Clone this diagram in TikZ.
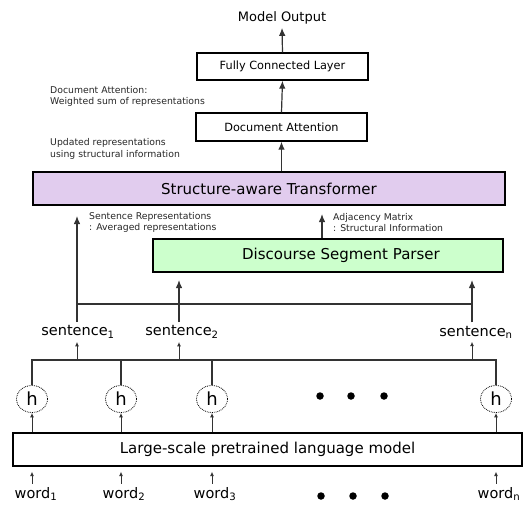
\documentclass[tikz,border=0pt]{standalone}
\usepackage{fontspec}
\setmainfont{DejaVu Sans}
\usetikzlibrary{shapes.geometric,arrows.meta}
\definecolor{purplefill}{HTML}{E1CCEE}
\definecolor{greenfill}{HTML}{CCFFCC}
\definecolor{linegray}{HTML}{333333}
\begin{document}
\begin{tikzpicture}[x=1pt,y=-1pt,
  box/.style={draw=black,line width=1.3pt,inner sep=0pt},
  bigtext/.style={font=\fontsize{14.5}{16}\selectfont},
  midtext/.style={font=\fontsize{11.3}{13}\selectfont},
  largetext/.style={font=\fontsize{15}{17}\selectfont},
  note/.style={font=\fontsize{9.3}{11.5}\selectfont,align=left,anchor=west,inner sep=0pt,text=black!85},
  bigarrow/.style={draw=linegray,line width=1.2pt,-{Latex[length=8pt,width=6.5pt]}},
  smallarrow/.style={draw=linegray,line width=0.9pt,-{Latex[length=4.5pt,width=4pt]}},
  plain/.style={draw=linegray,line width=1.2pt},
  hnode/.style={ellipse,draw=black,densely dotted,line width=0.8pt,minimum width=31pt,minimum height=27pt,inner sep=0pt,font=\fontsize{18}{20}\selectfont},
  dotmark/.style={circle,fill=black,minimum size=7.5pt,inner sep=0pt}
]
\useasboundingbox (0,0) rectangle (530,504);

% top part
\node[font=\fontsize{13}{15}\selectfont] (out) at (282,18) {Model Output};
\node[box,midtext,minimum width=171pt,minimum height=27pt] (fc) at (282.5,66.5) {Fully Connected Layer};
\node[box,midtext,minimum width=171pt,minimum height=28pt] (da) at (281.5,127) {Document Attention};
\node[box,fill=purplefill,minimum width=472pt,minimum height=33pt,largetext] (sta) at (269,188.5) {Structure-aware Transformer};
\node[box,fill=greenfill,minimum width=350pt,minimum height=33pt] (dsp) at (328,255.5) {};
\node[largetext] (dsptext) at (341,255.5) {Discourse Segment Parser};

\node[note] (n1) at (50,96.5) {Document Attention:\\Weighted sum of representations};
\node[note] (n2) at (50,149) {Updated representations\\using structural information};
\node[note] (n3) at (89,222.5) {Sentence Representations\\: Averaged representations};
\node[note] (n4) at (333,222.5) {Adjacency Matrix\\: Structural Information};

\draw[bigarrow] (fc.north) -- (out.south);
\draw[bigarrow] (da.north) -- (fc.south);
\draw[bigarrow] (da.south |- sta.north) -- (da.south);

% sentences
\node[bigtext] (s1) at (78,332) {sentence\textsubscript{1}};
\node[bigtext] (s2) at (182,332) {sentence\textsubscript{2}};
\node[bigtext] (sn) at (476,332) {sentence\textsubscript{n}};

\coordinate (s1tip) at (77,216);
\coordinate (adjtip) at (322,214);
\coordinate (s2tip) at (179,280);
\coordinate (sntip) at (472,280);
\coordinate (hL) at (77,304);
\coordinate (hR) at (472,304);

\draw[bigarrow] (s1tip |- s1.north) -- (s1tip);
\draw[bigarrow] (adjtip |- dsp.north) -- (adjtip);
\draw[bigarrow] (s2tip |- s2.north) -- (s2tip);
\draw[bigarrow] (sntip |- sn.north) -- (sntip);
\draw[plain] (hL) -- (hR);

% hidden states
\node[hnode] (h1) at (32,399) {h};
\node[hnode] (h2) at (121,399) {h};
\node[hnode] (h3) at (212,399) {h};
\node[hnode] (hn) at (496,399) {h};
\node[dotmark] (d1) at (320,396) {};
\node[dotmark] (d2) at (351,396) {};
\node[dotmark] (d3) at (384,396) {};

\coordinate (bL) at (32,360);
\coordinate (bR) at (496,360);
\draw[plain] (h1.north) -- (bL) -- (bR) -- (hn.north);
\draw[plain] (h2.north) -- (h2.north |- bL);
\draw[plain] (h3.north) -- (h3.north |- bL);
\draw[smallarrow] (s1tip |- bL) -- (s1tip |- s1.south);
\draw[smallarrow] (s2tip |- bL) -- (s2tip |- s2.south);
\draw[smallarrow] (sntip |- bL) -- (sntip |- sn.south);

% language model
\node[box,largetext,minimum width=509pt,minimum height=33pt] (lm) at (267.5,449.5) {Large-scale pretrained language model};
\draw[smallarrow] (h1 |- lm.north) -- (h1.south);
\draw[smallarrow] (h2 |- lm.north) -- (h2.south);
\draw[smallarrow] (h3 |- lm.north) -- (h3.south);
\draw[smallarrow] (hn |- lm.north) -- (hn.south);

% words
\node[bigtext] (w1) at (36,494) {word\textsubscript{1}};
\node[bigtext] (w2) at (124,494) {word\textsubscript{2}};
\node[bigtext] (w3) at (215,494) {word\textsubscript{3}};
\node[bigtext] (wn) at (499,494) {word\textsubscript{n}};
\node[dotmark] (e1) at (321,496) {};
\node[dotmark] (e2) at (353,496) {};
\node[dotmark] (e3) at (385,496) {};

\draw[smallarrow,shorten >=5pt] (h1 |- w1.north) -- (h1 |- lm.south);
\draw[smallarrow,shorten >=5pt] (h2 |- w2.north) -- (h2 |- lm.south);
\draw[smallarrow,shorten >=5pt] (h3 |- w3.north) -- (h3 |- lm.south);
\draw[smallarrow,shorten >=5pt] (hn |- wn.north) -- (hn |- lm.south);
\end{tikzpicture}
\end{document}
